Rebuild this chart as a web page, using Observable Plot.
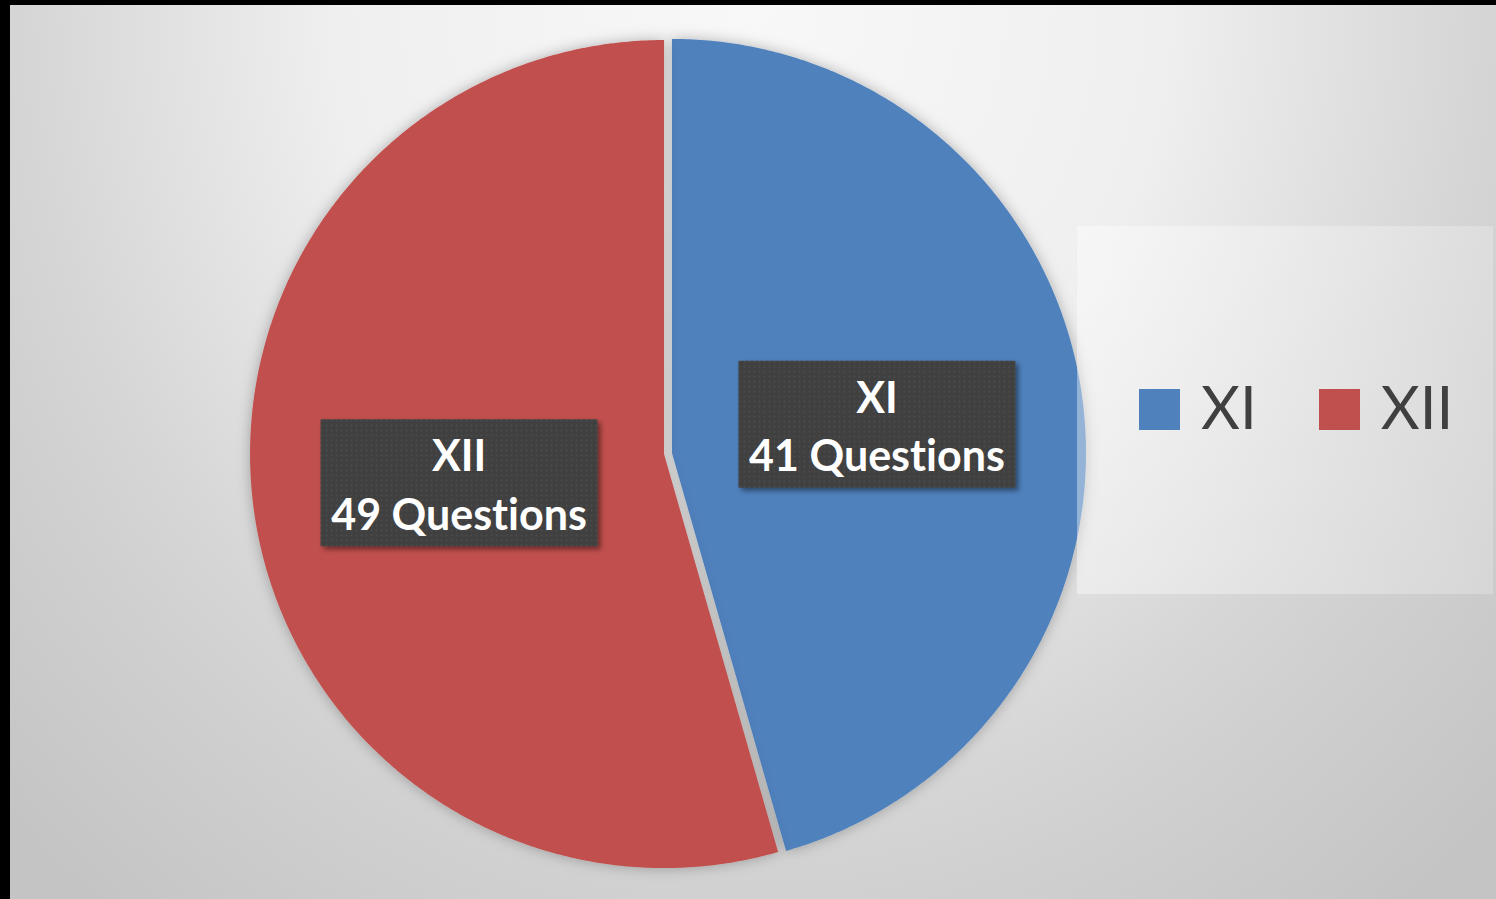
<!DOCTYPE html>
<html>
<head>
<meta charset="utf-8">
<script src="https://cdn.jsdelivr.net/npm/d3@7"></script>
<script src="https://cdn.jsdelivr.net/npm/@observablehq/plot@0.6"></script>
<style>
  html, body { margin: 0; padding: 0; background: #000; width: 1496px; height: 899px; overflow: hidden; }
  #frame {
    position: absolute; left: 10px; top: 5px; width: 1486px; height: 894px;
    background: radial-gradient(ellipse 1044px 1160px at 740px 0px, #f8f8f8 0%, #efefef 40%, #d6d6d6 69%, #d0d0d0 78%, #c4c4c4 100%);
    overflow: hidden;
  }
  #chart { position: absolute; left: 0; top: 0; }
  #chart text { font-variant-ligatures: none; font-feature-settings: "liga" 0, "clig" 0; }
  #legend {
    position: absolute; left: 1067px; top: 221px; width: 416px; height: 368px;
    background: linear-gradient(to right, rgba(255,255,255,0.40), rgba(255,255,255,0.22));
    display: flex; align-items: center; justify-content: flex-start; gap: 62px;
    font-family: Lato, "Open Sans", sans-serif; color: #404040; font-size: 60px;
    padding-left: 62px; padding-bottom: 2px; box-sizing: border-box;
  }
  .item { display: flex; align-items: center; gap: 21px; }
  .sw { width: 41px; height: 41px; }
  .lt { line-height: 1; position: relative; top: -3px; }
</style>
</head>
<body>
<div id="frame">
  <div id="chart"></div>
  <div id="legend"></div>
</div>
<script>
// ---- data ----
const categories = ["XI", "XII"];
const values = [41, 49];
const colors = ["#4F81BD", "#C0504D"];
const labelSuffix = "Questions";

// ---- layout ----
const W = 1486, H = 894;
const cx = 657.5, cy = 448, R = 414;   // pixel centre & radius
const explode = 4 / R;                 // explosion offset (radius units)
const labelFrac = 0.5;

const pie = d3.pie().sort(null).value(d => d.value).startAngle(0).endAngle(2 * Math.PI);
const arcs = pie(categories.map((c, i) => ({cat: c, value: values[i]})));

// polygon vertices for each slice (in radius units, y downward)
const slicePts = [];
const labels = [];
for (const a of arcs) {
  const mid = (a.startAngle + a.endAngle) / 2;
  const ox = Math.sin(mid) * explode, oy = -Math.cos(mid) * explode;
  slicePts.push({cat: a.data.cat, x: ox, y: oy});
  const n = Math.max(2, Math.ceil((a.endAngle - a.startAngle) / (Math.PI / 360)));
  for (let k = 0; k <= n; k++) {
    const t = a.startAngle + (a.endAngle - a.startAngle) * k / n;
    slicePts.push({cat: a.data.cat, x: ox + Math.sin(t), y: oy - Math.cos(t)});
  }
  slicePts.push({cat: a.data.cat, x: ox, y: oy});
  labels.push({
    cat: a.data.cat,
    text: `${a.data.cat}\n${a.data.value} ${labelSuffix}`,
    x: ox + Math.sin(mid) * labelFrac,
    y: oy - Math.cos(mid) * labelFrac
  });
}

const boxSymbol = { draw(ctx) { ctx.rect(-138.5, -63.5, 277, 127); } };

const plot = Plot.plot({
  width: W, height: H,
  margin: 0,
  style: { background: "transparent", overflow: "visible" },
  x: { domain: [-cx / R, (W - cx) / R], range: [0, W], axis: null },
  y: { domain: [-cy / R, (H - cy) / R], range: [0, H], axis: null },
  color: { domain: categories, range: colors },
  marks: [
    Plot.line(slicePts, { x: "x", y: "y", z: "cat", fill: "cat", stroke: "none", curve: "linear" }),
    Plot.dot(labels, { x: "x", y: "y", symbol: boxSymbol, r: 10, fill: "url(#dotpat)", stroke: "none" }),
    Plot.text(labels, {
      x: "x", y: "y", text: "text", fill: "white", fontWeight: "bold",
      fontSize: 43, lineHeight: 1.37, fontFamily: "Lato, 'Open Sans', sans-serif", dy: -1
    })
  ]
});

// defs: dot pattern, shadows
const svgNS = "http://www.w3.org/2000/svg";
const defs = document.createElementNS(svgNS, "defs");
defs.innerHTML = `
  <pattern id="dotpat" width="5" height="5" patternUnits="userSpaceOnUse">
    <rect width="5" height="5" fill="#404040"/>
    <circle cx="2.5" cy="2.5" r="0.9" fill="#4d4d4d"/>
  </pattern>
  <filter id="pieShadow" x="-10%" y="-10%" width="120%" height="120%">
    <feDropShadow dx="0" dy="0" stdDeviation="7" flood-color="#000" flood-opacity="0.28"/>
  </filter>
  <filter id="boxShadow" x="-10%" y="-10%" width="130%" height="130%">
    <feDropShadow dx="3" dy="3" stdDeviation="2.5" flood-color="#000" flood-opacity="0.45"/>
  </filter>`;
plot.insertBefore(defs, plot.firstChild);
d3.select(plot).selectAll('g[aria-label="line"] path').attr("filter", "url(#pieShadow)");
d3.select(plot).selectAll('g[aria-label="dot"] path').attr("filter", "url(#boxShadow)");
d3.select(plot).selectAll('g[aria-label="text"] text').style("font-variant-ligatures", "none");
document.getElementById("chart").appendChild(plot);

// legend
const lg = d3.select("#legend");
categories.forEach((c, i) => {
  const it = lg.append("div").attr("class", "item");
  it.append("div").attr("class", "sw").style("background", colors[i]);
  it.append("div").attr("class", "lt").text(c);
});
</script>
</body>
</html>
